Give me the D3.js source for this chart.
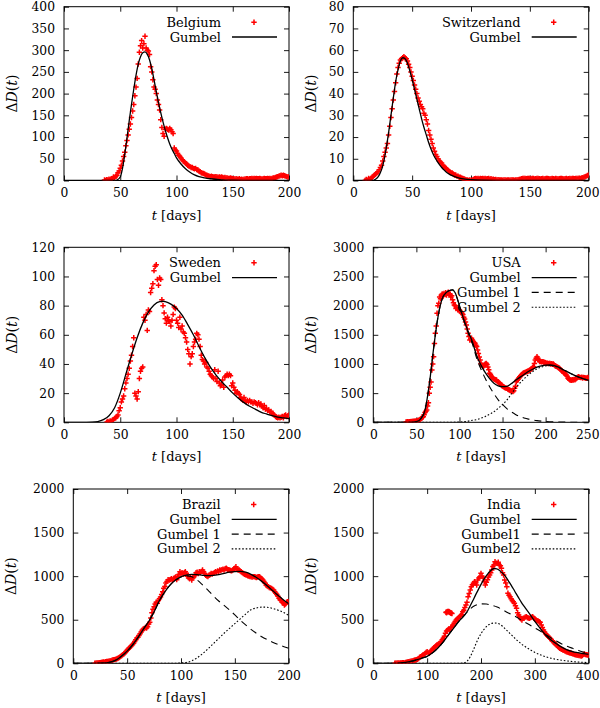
<!DOCTYPE html>
<html>
<head>
<meta charset="utf-8">
<script src="https://cdnjs.cloudflare.com/ajax/libs/d3/7.8.5/d3.min.js"></script>
<style>
  body { margin: 0; background: #fff; }
  svg text { font-family: "DejaVu Serif", serif; font-size: 13px; fill: #000; }
  svg .tick text { font-size: 12.3px; }
</style>
</head>
<body>
<svg id="fig" width="600" height="708"></svg>
<script>
// ---- data (daily death counts + fitted curves) ----

// Belgium: daily values from day 36
var belgiumStart = 36;
var belgiumDeaths = [1,0,2,1,3,2,4,5,8,6, 10,12,18,22,28,35,45,55,65,80,
  92,105,118,130,145,160,175,195,215,235, 268,295,310,322,305,315,332,305,300,298,
  290,262,250,232,215,210,200,185,175,162, 140,122,108,102,118,120,118,116,120,117,
  112,108,75,70,68,62,58,55,52,48, 45,43,40,38,35,33,32,30,30,28,
  27,28,25,24,22,20,18,17,16,15, 13,12,11,10,9,10,9,8,8,9,
  8,7,8,7,8,7,6,7,6,6, 5,5,6,5,4,4,3,4,3,3, 4,2,3,2,3,3,4,4,3,4,
  4,5,4,5,4,5,4,4,5,4, 3,4,5,4,4,5,4,5,4,5, 6,6,7,8,9,10,11,12,11,12, 11,10,9,8,9];
var belgiumGumbel = [[0,0],[45,0],[47,1],[50,8],[52,28],[54,60],[56,98],[58,138],[60,175],[62,210],
  [64,242],[66,268],[68,285],[70,294],[72,296],[74,291],[76,278],[78,258],[80,232],[82,205],
  [84,180],[86,156],[88,135],[90,116],[92,99],[94,84],[96,72],[98,62],[100,52],[104,38],
  [108,27],[112,19],[116,13],[120,9],[125,6],[130,4],[140,1.5],[150,0.6],[160,0.2],[180,0],[200,0]];

// Switzerland: daily values from day 10
var swissStart = 10;
var swissDeaths = [0,0.5,0,1,0.5,1,1.5,2,2.5,3, 3.5,4,5,6,7,9,11,13,15,17,
  21,25,29,33,37,41,45,49,52,54, 55.5,56,56.5,57,56.5,56,55,53.5,52,50,
  48,46,44,42,40,38,36.5,35,34,33, 31,30,28,26,23,21,19,17,15,13.5,
  12,11,10,9,8.5,8,7,6.5,6,5.5, 5,4.5,4,3.5,3.5,3,2.5,2.5,2,2,
  1.5,1.5,1.2,1,0.8,0.5,0.3,0.2,0,0.2, 0,0.3,0.5,0.8,1,0.8,1,0.7,1,0.8,
  1,0.8,1,0.7,0.8,1,0.6,0.8,0.5,0.6, 0.4,0.5,0.3,0.4,0.2,0.3,0.2,0.1,0.3,0.2,
  0.1,0.2,0.3,0.1,0.2,0.3,0.2,0.1,0.3,0.2, 0.4,0.5,0.6,0.8,1,0.9,1,0.8,1,0.9,
  1,0.8,0.9,1,0.7,0.8,1,0.9,0.8,0.7, 0.8,0.9,0.7,0.8,0.9,1,0.8,0.7,0.8,0.9,
  0.8,0.7,0.9,0.8,0.7,0.8,0.9,1,0.8,0.7, 0.8,0.9,0.7,0.8,0.9,0.8,1,0.9,0.8,1,
  0.9,1,1.1,1,1.2,1.3,1.5,1.7,2,2.3, 2.5];
var swissGumbel = [[0,0],[16,0],[18,0.3],[20,1],[22,2.5],[24,5],[26,9],[28,15],[30,22],[32,30],
  [34,38],[36,45.5],[38,51],[40,55],[42,56.5],[44,56],[46,54],[48,50.5],[50,46.5],[52,42],
  [54,37.5],[56,33],[58,28.5],[60,24.5],[62,21],[64,17.5],[66,14.5],[68,12],[70,10],[72,8.2],
  [74,6.7],[76,5.4],[78,4.4],[80,3.5],[85,2],[90,1.1],[95,0.6],[100,0.35],[110,0.12],[120,0.04],[140,0],[200,0]];

// Sweden: daily values from day 38
var swedenStart = 38;
var swedenDeaths = [0,0.5,0,1,0.5,1.5,2,2.7,3,4, 5,8,10,14,16,18,23,27,30,33,
  37,42,46,52,58,20,18,16,21,30, 35,37,38,72,70,74,63,77,76,89,
  92,95,104,107,108,98,94,99,98,84, 80,75,71,68,72,70,69,66,70,74,
  79,78,70,68,65,72,64,66,62,61, 58,55,50,47,40,45,47,52,55,57,
  61,60,57,52,46,43,42,40,41,38, 37,35,33,32,31,30,36,30,28,35,
  27,25,26,29,24,31,32,33,32,33, 32,25,27,24,22,20,21,20,19,17,
  16,15,17,15,14,15,14,15,14,14, 13,14,13.5,13,12,13.5,12,12.5,11,10,
  11.5,9,9.7,8,8.5,7,7.5,6,5.5,5, 4,3.5,3,3.5,3,3.5,4,3,4.5,5, 4,4.5,5];
var swedenGumbel = [[0,0],[20,0],[25,0.1],[30,0.5],[35,1.8],[40,4.5],[45,10],[50,20],[55,33],[60,46],
  [65,58],[70,68],[75,75.5],[80,80.5],[85,82.8],[88,83],[90,82.7],[95,81],[100,78],[105,73.5],
  [110,67],[115,60],[120,52],[125,44.5],[130,38],[135,32.5],[140,28],[145,24],[150,20],[155,16.5],
  [160,13.5],[165,11],[170,9],[175,7],[180,5.7],[185,4.5],[190,3.6],[195,3],[200,2.5]];

// USA: daily values from day 38
var usaStart = 38;
var usaDeaths = [5,8,10,5,12,10,15,12,18,15, 20,18,22,25,30,35,40,55,70,85,
  96,130,170,190,210,280,335,497,600,690, 897,1000,1125,1350,1525,1650,1870,2000,2040,2150,
  2120,2180,2200,2160,2210,2190,2220,2180,2210,2230, 2200,2190,2150,2170,2100,2050,2011,2000,1950,1960,
  1930,1940,1925,1900,1880,1870,1850,1800,1770,1720, 1668,1600,1525,1470,1411,1430,1440,1410,1380,1370,
  1354,1320,1300,1240,1180,1120,1068,1010,983,960, 954,982,1000,1011,990,950,900,840,820,790,
  770,755,740,735,730,725,700,690,680,668, 650,630,620,611,600,590,585,582,570,560,
  554,545,540,530,525,540,582,620,696,720, 740,760,782,800,815,830,840,850,855,860,
  868,875,880,890,897,910,925,940,954,1010, 1068,1100,1125,1097,1070,1040,1045,1035,1040,1040,
  1030,1025,1020,1011,1015,1005,1010,1011,1000,1005, 995,1000,985,970,960,954,945,935,926,910,
  895,880,868,850,840,825,811,790,754,740, 730,725,720,730,725,735,730,740,760,770,
  780,775,770,765,775,760,770,765,760,754, 760,770,765];
var usaGumbel = [[0,0],[45,0],[50,10],[55,60],[60,210],[65,650],[70,1270],[75,1800],[80,2120],[85,2230],
  [90,2265],[92,2270],[95,2220],[100,2000],[105,1760],[110,1560],[115,1380],[120,1140],[125,980],[130,850],
  [135,750],[140,670],[145,625],[150,610],[155,615],[160,660],[165,720],[170,770],[175,820],[180,870],
  [185,910],[190,945],[195,968],[200,980],[205,982],[210,970],[215,945],[220,905],[225,868],[230,829],
  [235,795],[240,765],[245,740],[250,720]];
var usaGumbel1 = [[0,0],[45,0],[50,10],[55,60],[60,210],[65,650],[70,1270],[75,1800],[80,2120],[85,2230],
  [90,2265],[92,2270],[95,2218],[100,1995],[105,1750],[110,1540],[115,1345],[120,1095],[125,910],[130,750],
  [135,610],[140,490],[145,385],[150,305],[155,235],[160,180],[165,135],[170,100],[175,75],[180,55],
  [185,40],[190,28],[195,20],[200,14],[210,7],[220,3],[230,1],[250,0]];
var usaGumbel2 = [[0,0],[80,0],[90,1],[100,5],[105,10],[110,20],[115,35],[120,45],[125,70],[130,100],
  [135,140],[140,180],[145,240],[150,305],[155,380],[160,480],[165,585],[170,670],[175,745],[180,815],
  [185,870],[190,917],[195,948],[200,966],[205,972],[210,964],[215,941],[220,902],[225,868],[230,829],
  [235,795],[240,765],[245,740],[250,720]];

// Brazil: daily values from day 20
var brazilStart = 20;
var brazilDeaths = [0,2,5,3,8,6,10,12,15,14, 18,20,22,25,28,30,35,40,42,45,
  50,55,60,70,80,90,100,110,120,135, 150,160,175,190,200,215,230,250,270,290,
  300,320,340,360,380,395,400,410,405,420, 450,470,520,580,620,650,680,700,690,720,
  740,760,790,820,860,880,920,940,960,955, 960,970,950,975,980,990,960,1000,1020,1051,
  1030,1040,1020,1040,1050,1032,1000,980,970,990, 956,980,994,1010,1040,1045,1030,1051,1040,1055,
  1070,1050,1030,1010,1000,994,1010,1020,1030,1025, 1032,1040,1050,1045,1060,1055,1070,1065,1075,1080,
  1070,1085,1090,1080,1075,1070,1065,1060,1070,1080, 1090,1108,1085,1070,1070,1060,1050,1040,1030,1020,
  1015,1013,1005,1000,995,994,990,995,994,990, 985,990,995,994,980,970,956,940,920,898,
  890,880,870,865,860,850,840,820,803,790, 770,745,730,720,700,688,669,680,700,707, 710];
var brazilGumbel = [[0,0],[20,0],[25,1],[30,5],[35,15],[40,40],[45,85],[50,140],[55,210],[60,295],
  [65,390],[70,480],[75,590],[80,720],[85,820],[90,900],[95,955],[100,993],[105,1012],[110,1020],
  [115,1018],[120,1010],[125,1005],[130,1008],[135,1018],[140,1032],[145,1045],[150,1053],[155,1055],[160,1045],
  [165,1020],[170,985],[175,940],[180,890],[185,835],[190,780],[195,730],[200,685]];
var brazilGumbel1 = [[0,0],[20,0],[25,1],[30,5],[35,15],[40,40],[45,85],[50,140],[55,210],[60,295],
  [65,390],[70,480],[75,590],[80,720],[85,820],[90,900],[95,955],[100,990],[105,1003],[110,992],
  [115,955],[120,900],[125,840],[130,775],[135,715],[140,665],[145,612],[150,555],[155,495],[160,440],
  [165,390],[170,345],[175,305],[180,272],[185,242],[190,216],[195,193],[200,172]];
var brazilGumbel2 = [[0,0],[90,0],[95,1],[100,4],[105,10],[110,28],[115,63],[120,110],[125,165],[130,225],
  [135,285],[140,345],[145,400],[150,455],[155,510],[160,565],[165,615],[170,635],[175,645],[180,643],
  [185,630],[190,610],[195,585],[200,550]];

// India: values every 2 days from day 40, plus an isolated cluster
var indiaStart = 40, indiaStep = 2;
var indiaDeaths = [0,2,0,3,2,5,3,6,8,5, 10,12,15,18,20,25,28,30,35,38,
  40,45,55,70,76,85,95,100,110,125, 134,120,115,130,150,165,172,185,200,210,
  215,225,230,250,270,287,310,344,370,382, 395,382,410,420,440,460,480,497,510,520,
  535,545,560,592,610,640,670,700,764,800, 841,879,900,918,937,920,899,955,980,994,
  1032,1000,980,940,899,930,960,990,1013,1040, 1070,1110,1128,1166,1150,1147,1160,1128,1120,1090,
  1040,1013,956,920,879,803,780,764,740,720, 707,690,660,631,580,554,535,510,497,516,
  520,530,535,525,520,516,525,530,535,520, 510,497,490,485,478,470,440,410,382,360,
  340,325,310,300,287,275,260,249,235,220, 210,200,185,172,165,160,153,148,140,134,
  130,125,120,118,115,110,105,100,98,96, 92,90,88,84,90,100,107,100,98,96, 96];
var indiaCluster = [[135,585],[136,580],[137,592],[138,595],[139,590],[140,596],[141,588],[142,585],[143,580],[144,578],[145,575],[146,572]];
var indiaGumbel = [[0,0],[40,0],[50,3],[60,10],[70,22],[80,38],[90,58],[100,80],[110,120],[120,175],
  [130,245],[140,330],[150,410],[160,490],[170,555],[175,600],[180,660],[185,720],[190,785],[195,845],
  [200,905],[205,960],[210,1005],[215,1045],[220,1075],[225,1088],[230,1082],[235,1062],[240,1035],[245,1000],
  [250,955],[255,905],[260,855],[265,802],[270,750],[275,700],[280,655],[290,570],[300,480],[310,400],
  [320,325],[330,268],[340,225],[350,185],[360,155],[370,135],[380,122],[390,110],[400,102]];
var indiaGumbel1 = [[0,0],[40,0],[50,3],[60,10],[70,22],[80,38],[90,58],[100,80],[110,120],[120,175],
  [130,245],[140,330],[150,410],[160,490],[170,560],[180,625],[190,665],[200,682],[210,680],[220,665],
  [230,645],[240,615],[250,580],[260,550],[270,515],[280,478],[290,442],[300,405],[310,370],[320,330],
  [330,292],[340,255],[350,222],[360,195],[370,172],[380,150],[390,130],[400,115]];
var indiaGumbel2 = [[0,0],[160,0],[165,2],[170,8],[175,30],[180,75],[185,140],[190,215],[195,285],[200,340],
  [205,385],[210,420],[215,445],[220,458],[225,462],[230,460],[235,448],[240,425],[245,395],[250,365],
  [255,335],[260,305],[265,275],[270,248],[275,222],[280,200],[290,160],[300,125],[310,97],[320,75],
  [330,58],[340,45],[350,35],[360,27],[370,20],[380,15],[390,11],[400,8]];

// tick values
var ticks200 = [0,50,100,150,200];
var ticks250 = [0,50,100,150,200,250];
var ticks400 = [0,100,200,300,400];
var belgiumYTicks = [0,50,100,150,200,250,300,350,400];
var swissYTicks = [0,10,20,30,40,50,60,70,80];
var swedenYTicks = [0,20,40,60,80,100,120];
var usaYTicks = [0,500,1000,1500,2000,2500,3000];
var brazilYTicks = [0,500,1000,1500,2000];
var indiaYTicks = [0,500,1000,1500,2000];

function daily(start, step, vals) {
  return vals.map(function (v, i) { return [start + i * step, v]; });
}

var panels = [
  { box: [64, 6.7, 289, 180.5], xt: ticks200, yt: belgiumYTicks, ylab: 12,
    pts: daily(belgiumStart, 1, belgiumDeaths),
    fits: [belgiumGumbel], names: ["Belgium", "Gumbel"] },
  { box: [353.3, 6.7, 588.7, 180.5], xt: ticks200, yt: swissYTicks, ylab: 311,
    pts: daily(swissStart, 1, swissDeaths),
    fits: [swissGumbel], names: ["Switzerland", "Gumbel"] },
  { box: [64, 247.3, 289, 422.3], xt: ticks200, yt: swedenYTicks, ylab: 12,
    pts: daily(swedenStart, 1, swedenDeaths),
    fits: [swedenGumbel], names: ["Sweden", "Gumbel"] },
  { box: [373.3, 247.3, 588.7, 422.3], xt: ticks250, yt: usaYTicks, ylab: 311,
    pts: daily(usaStart, 1, usaDeaths),
    fits: [usaGumbel, usaGumbel1, usaGumbel2], names: ["USA", "Gumbel", "Gumbel 1", "Gumbel 2"] },
  { box: [73.3, 489, 288.7, 663.3], xt: ticks200, yt: brazilYTicks, ylab: 11,
    pts: daily(brazilStart, 1, brazilDeaths),
    fits: [brazilGumbel, brazilGumbel1, brazilGumbel2], names: ["Brazil", "Gumbel", "Gumbel 1", "Gumbel 2"] },
  { box: [373.3, 489, 588.7, 663.3], xt: ticks400, yt: indiaYTicks, ylab: 311,
    pts: daily(indiaStart, indiaStep, indiaDeaths).concat(indiaCluster),
    fits: [indiaGumbel, indiaGumbel1, indiaGumbel2], names: ["India", "Gumbel", "Gumbel1", "Gumbel2"] }
];

var dashes = [null, "7,5", "1.6,1.9"];
var cross = "M-2.7,0H2.7M0,-2.7V2.7";

var svg = d3.select("#fig");
var defs = svg.append("defs");

panels.forEach(function (p, k) {
  var x0 = p.box[0], y0 = p.box[1], x1 = p.box[2], y1 = p.box[3];
  var xMax = p.xt[p.xt.length - 1], yMax = p.yt[p.yt.length - 1];
  var x = d3.scaleLinear().domain([0, xMax]).range([x0, x1]);
  var y = d3.scaleLinear().domain([0, yMax]).range([y1, y0]);

  defs.append("clipPath").attr("id", "clip" + k)
    .append("rect").attr("x", x0).attr("y", y0).attr("width", x1 - x0).attr("height", y1 - y0);

  // axes: inward ticks on all four sides, labels only bottom/left
  var axB = svg.append("g").attr("transform", "translate(0," + y1 + ")")
    .call(d3.axisBottom(x).tickValues(p.xt).tickSize(-5).tickPadding(8).tickFormat(d3.format("d")));
  var axT = svg.append("g").attr("transform", "translate(0," + y0 + ")")
    .call(d3.axisTop(x).tickValues(p.xt).tickSize(-5).tickFormat(""));
  var axL = svg.append("g").attr("transform", "translate(" + x0 + ",0)")
    .call(d3.axisLeft(y).tickValues(p.yt).tickSize(-5).tickPadding(9).tickFormat(d3.format("d")));
  var axR = svg.append("g").attr("transform", "translate(" + x1 + ",0)")
    .call(d3.axisRight(y).tickValues(p.yt).tickSize(-5).tickFormat(""));
  [axB, axT, axL, axR].forEach(function (a) {
    a.attr("font-family", null).attr("font-size", null);
    a.select(".domain").remove();
    a.selectAll("line").attr("stroke", "#000").attr("stroke-width", 0.9);
  });
  // keep the last x label inside the page, as in the original
  axB.selectAll("text").each(function () {
    var b = this.getBBox(), m = this.getCTM();
    var right = m.e + b.x + b.width;
    if (right > 599.5) d3.select(this).attr("dx", (599.5 - right) + "px");
  });

  svg.append("rect").attr("x", x0).attr("y", y0).attr("width", x1 - x0).attr("height", y1 - y0)
    .attr("fill", "none").attr("stroke", "#000").attr("stroke-width", 1);

  var plot = svg.append("g").attr("clip-path", "url(#clip" + k + ")");

  // data points
  plot.selectAll("path.pt").data(p.pts).enter().append("path")
    .attr("class", "pt")
    .attr("transform", function (d) { return "translate(" + x(d[0]) + "," + y(d[1]) + ")"; })
    .attr("d", cross).attr("stroke", "#ff0000").attr("stroke-width", 1.5).attr("fill", "none");

  // fitted curves
  var line = d3.line().x(function (d) { return x(d[0]); }).y(function (d) { return y(d[1]); })
    .curve(d3.curveMonotoneX);
  p.fits.forEach(function (f, j) {
    plot.append("path").datum(f).attr("d", line).attr("fill", "none")
      .attr("stroke", "#000").attr("stroke-width", j === 0 ? 1.3 : 1.1)
      .attr("stroke-dasharray", dashes[j]);
  });

  // legend
  p.names.forEach(function (n, i) {
    var ly = y0 + 15.5 + 14.8 * i;
    svg.append("text").attr("x", x1 - 68).attr("y", ly).attr("dy", "0.35em")
      .attr("text-anchor", "end").text(n);
    if (i === 0) {
      svg.append("path").attr("transform", "translate(" + (x1 - 35) + "," + ly + ")")
        .attr("d", cross).attr("stroke", "#ff0000").attr("stroke-width", 1.5);
    } else {
      svg.append("line").attr("x1", x1 - 57).attr("x2", x1 - 12).attr("y1", ly).attr("y2", ly)
        .attr("stroke", "#000").attr("stroke-width", i === 1 ? 1.3 : 1.1)
        .attr("stroke-dasharray", dashes[i - 1]);
    }
  });

  // axis titles
  var xl = svg.append("text").attr("x", (x0 + x1) / 2).attr("y", y1 + 39).attr("text-anchor", "middle");
  xl.append("tspan").attr("font-style", "italic").text("t");
  xl.append("tspan").text(" [days]");

  var yl = svg.append("text").attr("text-anchor", "middle").attr("dy", "0.35em")
    .style("font-size", "14px")
    .attr("transform", "translate(" + p.ylab + "," + ((y0 + y1) / 2) + ") rotate(-90)");
  yl.append("tspan").text("Δ");
  yl.append("tspan").attr("font-style", "italic").text("D");
  yl.append("tspan").text("(");
  yl.append("tspan").attr("font-style", "italic").text("t");
  yl.append("tspan").text(")");
});
</script>
</body>
</html>
